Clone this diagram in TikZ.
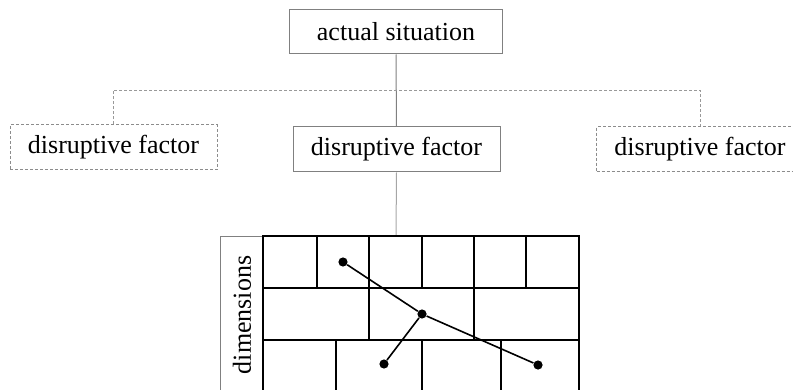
\documentclass[tikz,border=0pt]{standalone}
\usepackage{fontspec}
\setmainfont{Liberation Serif}

\tikzset{
  box/.style={draw=gray, line width=0.5pt, minimum width=103.5pt, minimum height=22.5pt,
    inner sep=0pt, font=\fontsize{13}{15}\selectfont},
  dashbox/.style={box, draw=gray!90, dash pattern=on 1.5pt off 1pt},
  branch/.style={draw=gray!80, line width=0.4pt, dash pattern=on 1.5pt off 1pt},
  cell/.style={draw=black, line width=0.6pt},
  frame/.style={draw=black, line width=1pt},
  dot/.style={circle, fill=black, inner sep=0pt, minimum size=4.6pt}
}

\begin{document}
\begin{tikzpicture}[x=0.5pt, y=-0.5pt]
  \clip (0,0) rectangle (793,390);

  % boxes
  \node[box, minimum width=106.5pt, minimum height=22pt] (actual) at (396,32) {actual situation};
  \node[dashbox] (left) at (113.5,147.5) {disruptive factor};
  \node[box] (mid) at (396.5,149.5) {disruptive factor};
  \node[dashbox] (right) at (700,149) {disruptive factor};

  \coordinate (fork) at (396,90);
  \coordinate (gridtop) at (396,236);

  % connectors
  \draw[gray, line width=0.5pt] (actual.south) -- (mid.north);
  \draw[branch] (left.north) -- (left.north |- fork) -- (right.north |- fork) -- (right.north);
  \draw[gray!70, line width=0.5pt] (mid.south) -- (gridtop);

  % dimensions table
  \draw[gray, line width=0.5pt] (263,236) -- (220,236) -- (220,400);
  \node[rotate=90, font=\fontsize{13}{15}\selectfont] (dims) at (242,315) {dimensions};
  \foreach \y in {288,340}
    \draw[cell] (263,\y) -- (579,\y);
  \foreach \x in {317,369,422,474,526}
    \draw[cell] (\x,236) -- (\x,288);
  \foreach \x in {369,474}
    \draw[cell] (\x,288) -- (\x,340);
  \foreach \x in {336,422,501}
    \draw[cell] (\x,340) -- (\x,400);
  \draw[frame] (263,400) -- (263,236) -- (579,236) -- (579,400);

  % points
  \node[dot] (p1) at (343,262) {};
  \node[dot] (p2) at (422,314) {};
  \node[dot] (p3) at (384,364) {};
  \node[dot] (p4) at (538,365) {};
  \draw[line width=0.8pt] (p1) -- (p2) -- (p4);
  \draw[line width=0.8pt] (p2) -- (p3);
\end{tikzpicture}
\end{document}
